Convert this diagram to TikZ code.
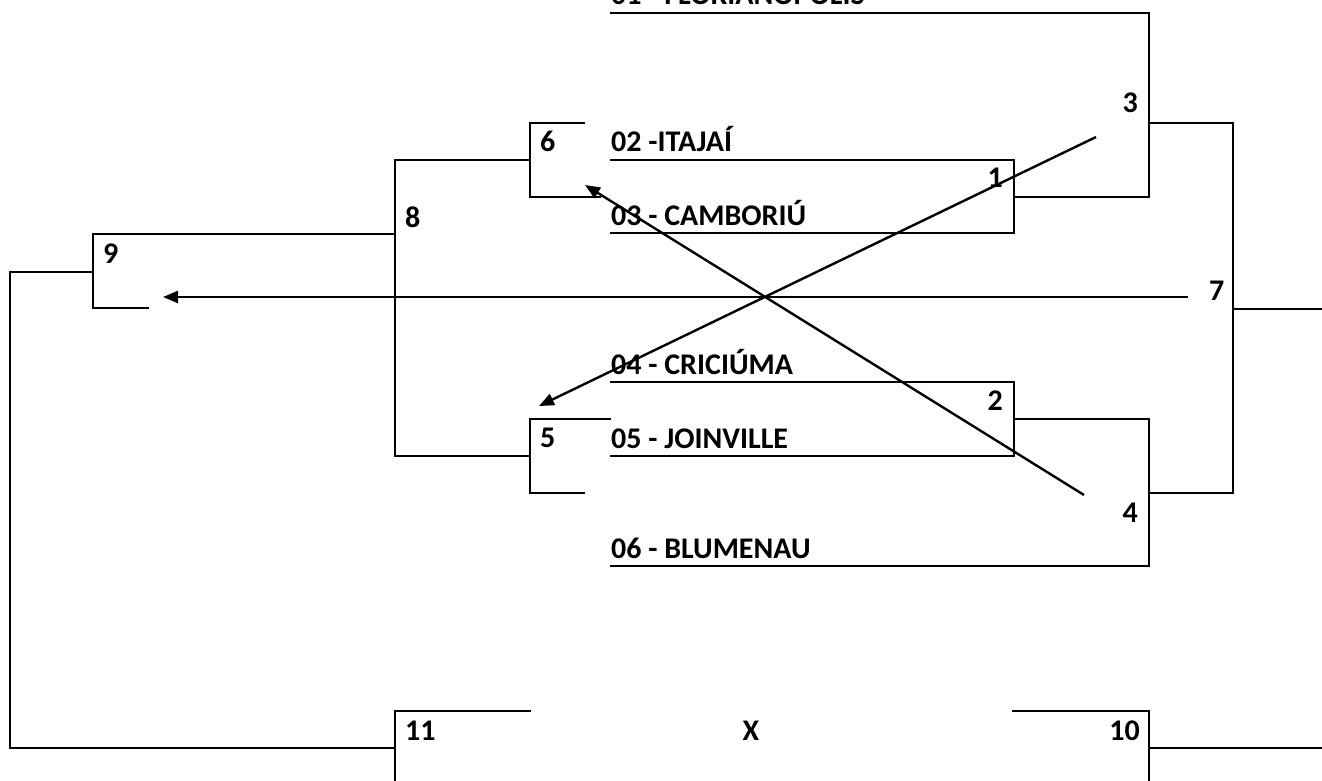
\documentclass[tikz,border=0pt]{standalone}
\usepackage{fontspec}
\setmainfont{Carlito}
\usetikzlibrary{arrows.meta}
\tikzset{
  br/.style={line width=2.4pt, line cap=rect, line join=miter},
  lbl/.style={inner sep=0pt, font=\fontsize{30}{32}\selectfont\bfseries},
  team/.style={lbl, anchor=base west},
  numw/.style={lbl, anchor=base west},
  nume/.style={lbl, anchor=base east},
  arr/.style={line width=2.4pt, -{Triangle[length=15pt,width=12pt]}}
}
\begin{document}
\begin{tikzpicture}[x=1pt,y=-1pt]
\useasboundingbox (0,0) rectangle (1322,781);
% brackets
\draw[br] (611,13)--(1149,13)--(1149,197)--(1014,197);
\draw[br] (611,160)--(1014,160)--(1014,233)--(611,233);
\draw[br] (1149,123)--(1233,123)--(1233,493)--(1149,493);
\draw[br] (1233,309)--(1322,309);
\draw[br] (611,382)--(1014,382)--(1014,456)--(611,456);
\draw[br] (1014,419)--(1149,419)--(1149,566)--(611,566);
\draw[br] (584,123)--(530,123)--(530,197)--(600,197);
\draw[br] (530,160)--(395,160)--(395,456)--(530,456);
\draw[br] (610,419)--(530,419)--(530,493)--(584,493);
\draw[br] (395,234)--(93,234)--(93,308)--(148,308);
\draw[br] (93,272)--(10,272)--(10,748)--(395,748);
\draw[br] (530,711)--(395,711)--(395,781);
\draw[br] (1013,711)--(1149,711)--(1149,781);
\draw[br] (1149,748)--(1322,748);
% team names
\node[team] (t1) at (611,5) {01 - FLORIANÓPOLIS};
\node[team] (t2) at (611,152) {02 -ITAJAÍ};
\node[team] (t3) at (611,225) {03 - CAMBORIÚ};
\node[team] (t4) at (611,374) {04 - CRICIÚMA};
\node[team] (t5) at (611,448) {05 - JOINVILLE};
\node[team] (t6) at (611,558) {06 - BLUMENAU};
% game numbers
\node[nume] (g1) at (1003,187) {1};
\node[nume] (g2) at (1003,410) {2};
\node[nume] (g3) at (1138,113) {3};
\node[nume] (g4) at (1138,522) {4};
\node[numw] (g5) at (540,447) {5};
\node[numw] (g6) at (540,152) {6};
\node[numw] (g7) at (1209,300) {7};
\node[numw] (g8) at (405,227) {8};
\node[numw] (g9) at (103,263) {9};
\node[nume] (g10) at (1140,740) {10};
\node[numw] (g11) at (405,740) {11};
\node[lbl, anchor=base] (gx) at (751,740) {X};
% arrows
\coordinate (a3) at (1096,137);
\coordinate (a5) at (539,406);
\coordinate (a4) at (1084,495);
\coordinate (a6) at (585,185);
\coordinate (a7) at (1188,297);
\coordinate (a9) at (163,297);
\draw[arr] (a3) -- (a5);
\draw[arr] (a4) -- (a6);
\draw[arr] (a7) -- (a9);
\end{tikzpicture}
\end{document}
